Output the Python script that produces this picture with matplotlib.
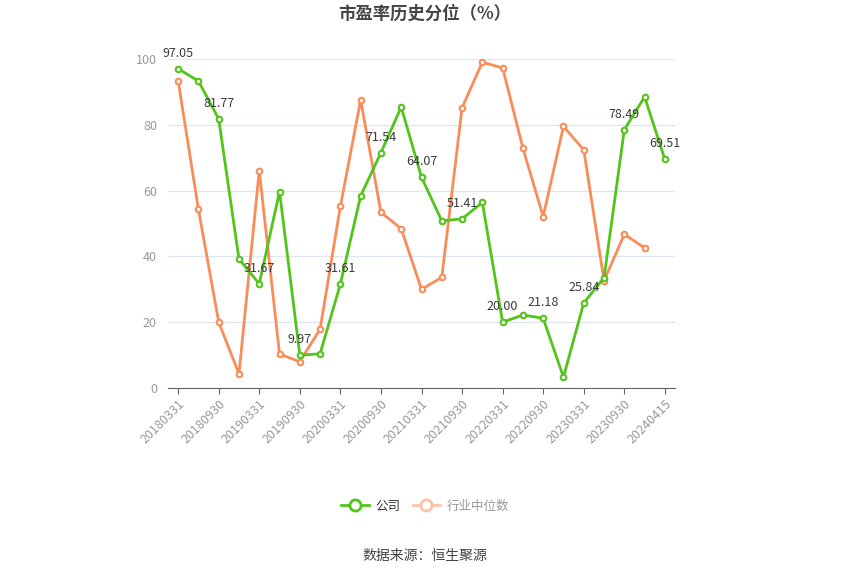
import matplotlib
matplotlib.use("Agg")
import matplotlib.pyplot as plt
from matplotlib.lines import Line2D

plt.rcParams['font.family'] = ['Noto Sans CJK SC', 'DejaVu Sans']

dates = ["20180331", "20180630", "20180930", "20181231",
         "20190331", "20190630", "20190930", "20191231",
         "20200331", "20200630", "20200930", "20201231",
         "20210331", "20210630", "20210930", "20211231",
         "20220331", "20220630", "20220930", "20221231",
         "20230331", "20230630", "20230930", "20231231",
         "20240415"]
company = [97.05, 93.3, 81.77, 39.2, 31.67, 59.7, 9.97, 10.4,
           31.61, 58.4, 71.54, 85.4, 64.07, 50.8, 51.41, 56.4,
           20.00, 22.2, 21.18, 3.3, 25.84, 33.5, 78.49, 88.5, 69.51]
industry = [93.4, 54.3, 20.0, 4.3, 66.1, 10.3, 8.0, 17.9,
            55.2, 87.5, 53.4, 48.4, 30.0, 33.6, 85.2, 99.0,
            97.3, 72.9, 52.1, 79.5, 72.4, 32.6, 46.7, 42.6]
yticks = [0, 20, 40, 60, 80, 100]

green = "#52c41a"
orange = "#fa8c5a"

fig = plt.figure(figsize=(8.5, 5.74), dpi=100)
ax = fig.add_axes([168/850, 1-388/574, (675-168)/850, (388-59)/574])

x = list(range(len(dates)))
ax.plot(x[:len(industry)], industry, color=orange, lw=2, marker='o', ms=4,
        mfc='white', mec=orange, mew=1.5, zorder=3)
ax.plot(x, company, color=green, lw=2, marker='o', ms=4,
        mfc='white', mec=green, mew=1.5, zorder=4)

for i in range(0, len(company), 2):
    ax.annotate(f"{company[i]:.2f}", (x[i], company[i]), xytext=(0, 6.5),
                textcoords='offset points', ha='center', va='bottom',
                fontsize=9, color='#3a3a3a', zorder=5)

ax.set_xlim(-0.5, len(dates)-0.5)
ax.set_ylim(0, 100)
ax.set_yticks(yticks)
ax.set_yticklabels([str(v) for v in yticks])
ax.set_xticks(x[::2])
ax.set_xticklabels(dates[::2], rotation=45, ha='right', rotation_mode='anchor')
ax.tick_params(axis='x', colors='#999999', labelsize=9, length=4, pad=3,
               color='#666666')
ax.tick_params(axis='y', colors='#999999', labelsize=9, length=0, pad=8)
ax.grid(axis='y', color='#e0e6f1', lw=1)
ax.set_axisbelow(True)
for s in ['top', 'right', 'left']:
    ax.spines[s].set_visible(False)
ax.spines['bottom'].set_color('#666666')

fig.text(0.5, 1-14/574, "市盈率历史分位（%）", ha='center', va='center',
         fontsize=12.5, fontweight='bold', color='#464646')

handles = [Line2D([0], [0], color=green, lw=2, marker='o', ms=8, mfc='white',
                  mec=green, mew=2),
           Line2D([0], [0], color='#ffc0a8', lw=2, marker='o', ms=8, mfc='white',
                  mec='#ffc0a8', mew=2)]
leg = fig.legend(handles, ["公司", "行业中位数"], loc='center',
                 bbox_to_anchor=(0.5, 1-506/574), ncol=2, frameon=False,
                 fontsize=9, handlelength=2.2, columnspacing=1.0,
                 handletextpad=0.5)
leg.get_texts()[0].set_color('#333333')
leg.get_texts()[1].set_color('#999999')

fig.text(0.5, 1-556/574, "数据来源：恒生聚源", ha='center', va='center',
         fontsize=10, color='#444444')

fig.savefig("out.png", dpi=100)
